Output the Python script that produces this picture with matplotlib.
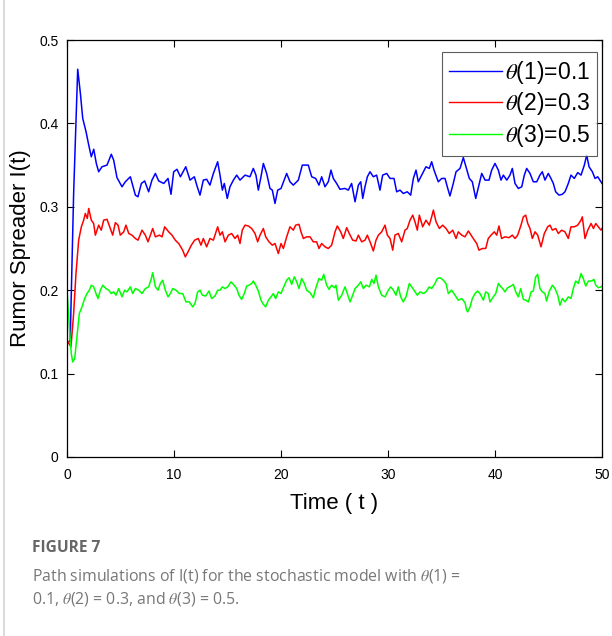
import matplotlib
matplotlib.use("Agg")
import matplotlib.pyplot as plt
from matplotlib.lines import Line2D

plt.rcParams['font.family'] = ['Liberation Sans', 'DejaVu Sans']
plt.rcParams['mathtext.fontset'] = 'stix'

# ---------------- data ----------------
blue_t = [0.0, 0.3, 0.62, 1.0, 1.25, 1.47, 1.78, 2.0, 2.27, 2.5, 2.74, 2.96, 3.27, 3.74, 4.14, 4.36,
          4.67, 5.14, 5.45, 5.92, 6.39, 6.63, 6.95, 7.26, 7.63, 7.94, 8.26, 8.57, 9.04, 9.44, 9.72,
          9.97, 10.28, 10.6, 11.1, 11.5, 11.9, 12.15, 12.43, 12.74, 13.05, 13.36, 13.68, 14.08,
          14.3, 14.52, 14.7, 14.98, 15.23, 15.55, 15.86, 16.17, 16.64, 17.1, 17.41, 17.66, 17.88,
          18.13, 18.35, 18.66, 18.97, 19.19, 19.44, 19.69, 20.0, 20.3, 20.53, 20.84, 21.15, 21.62,
          21.99, 22.55, 22.87, 23.24, 23.55, 23.8, 24.11, 24.42, 24.67, 24.89, 25.2, 25.51, 25.98,
          26.29, 26.6, 26.92, 27.23, 27.45, 27.64, 27.85, 28.07, 28.32, 28.63, 28.94, 29.25, 29.5,
          29.88, 30.19, 30.56, 30.81, 31.12, 31.43, 31.8, 32.12, 32.37, 32.62, 32.83, 33.15, 33.55,
          33.86, 34.08, 34.3, 34.7, 35.02, 35.33, 35.54, 35.79, 36.1, 36.36, 36.73, 37.04, 37.29,
          37.6, 37.88, 38.2, 38.5, 38.76, 39.07, 39.44, 39.69, 40.0, 40.31, 40.56, 40.78, 41.1,
          41.4, 41.62, 41.87, 42.18, 42.5, 42.74, 42.96, 43.27, 43.58, 43.9, 44.2, 44.42, 44.67,
          44.98, 45.23, 45.45, 45.67, 45.98, 46.29, 46.54, 46.85, 47.1, 47.41, 47.73, 48.04, 48.35,
          48.57, 48.79, 49.1, 49.35, 49.6, 49.9, 50.0]
blue_I = [0.135, 0.14, 0.316, 0.465, 0.436, 0.406, 0.39, 0.376, 0.36, 0.369, 0.352, 0.342, 0.348, 0.35,
          0.363, 0.356, 0.335, 0.324, 0.33, 0.336, 0.314, 0.312, 0.328, 0.331, 0.318, 0.332, 0.34,
          0.331, 0.328, 0.334, 0.315, 0.342, 0.345, 0.336, 0.348, 0.332, 0.336, 0.325, 0.314, 0.332,
          0.333, 0.326, 0.34, 0.354, 0.338, 0.32, 0.328, 0.31, 0.324, 0.332, 0.338, 0.332, 0.338,
          0.336, 0.346, 0.338, 0.32, 0.336, 0.352, 0.34, 0.322, 0.32, 0.304, 0.32, 0.322, 0.332,
          0.34, 0.33, 0.326, 0.332, 0.35, 0.35, 0.336, 0.334, 0.326, 0.336, 0.324, 0.33, 0.344,
          0.334, 0.328, 0.321, 0.322, 0.32, 0.328, 0.306, 0.326, 0.33, 0.31, 0.324, 0.336, 0.342,
          0.336, 0.338, 0.32, 0.338, 0.34, 0.334, 0.334, 0.318, 0.32, 0.316, 0.318, 0.314, 0.334,
          0.344, 0.33, 0.338, 0.348, 0.346, 0.354, 0.344, 0.33, 0.334, 0.334, 0.324, 0.313, 0.328,
          0.342, 0.346, 0.359, 0.348, 0.334, 0.33, 0.31, 0.326, 0.34, 0.332, 0.332, 0.344, 0.352,
          0.344, 0.332, 0.338, 0.332, 0.338, 0.346, 0.328, 0.322, 0.324, 0.338, 0.346, 0.34, 0.33,
          0.33, 0.338, 0.342, 0.332, 0.34, 0.334, 0.328, 0.318, 0.314, 0.315, 0.318, 0.328, 0.338,
          0.334, 0.341, 0.338, 0.35, 0.362, 0.348, 0.342, 0.334, 0.336, 0.33, 0.328]

red_t = [0.0, 0.37, 0.62, 0.84, 1.09, 1.34, 1.56, 1.71, 1.9, 2.03, 2.27, 2.49, 2.65, 2.96, 3.2, 3.43,
         3.74, 4.05, 4.27, 4.52, 4.77, 4.98, 5.3, 5.51, 5.77, 6.07, 6.39, 6.64, 7.01, 7.32, 7.57,
         7.79, 8.01, 8.26, 8.63, 8.88, 9.13, 9.5, 9.81, 10.12, 10.44, 10.81, 11.06, 11.31, 11.62,
         11.93, 12.27, 12.52, 12.74, 13.05, 13.36, 13.68, 14.08, 14.3, 14.52, 14.77, 15.08, 15.39,
         15.7, 15.95, 16.17, 16.38, 16.64, 16.95, 17.26, 17.57, 17.82, 18.04, 18.35, 18.57, 18.88,
         19.19, 19.44, 19.75, 20.0, 20.22, 20.53, 20.84, 21.15, 21.37, 21.68, 21.87, 22.09, 22.4,
         22.71, 23.02, 23.33, 23.55, 23.8, 24.11, 24.42, 24.73, 25.05, 25.26, 25.58, 25.82, 26.14,
         26.38, 26.7, 27.01, 27.23, 27.54, 27.85, 28.07, 28.38, 28.63, 28.88, 29.1, 29.41, 29.72,
         29.94, 30.19, 30.44, 30.65, 30.96, 31.28, 31.59, 31.8, 32.06, 32.31, 32.52, 32.74, 32.93,
         33.24, 33.55, 33.86, 34.08, 34.24, 34.49, 34.8, 35.11, 35.42, 35.73, 36.05, 36.36, 36.57,
         36.89, 37.2, 37.51, 37.76, 38.07, 38.29, 38.5, 38.81, 39.13, 39.37, 39.63, 39.94, 40.16,
         40.37, 40.62, 40.93, 41.31, 41.62, 41.87, 42.12, 42.43, 42.65, 42.87, 43.06, 43.27, 43.49,
         43.74, 43.99, 44.3, 44.61, 44.92, 45.14, 45.36, 45.67, 45.92, 46.23, 46.54, 46.85, 47.1,
         47.41, 47.73, 48.04, 48.16, 48.41, 48.67, 48.98, 49.2, 49.42, 49.66, 49.9, 50.0]
red_I = [0.14, 0.132, 0.172, 0.22, 0.26, 0.276, 0.284, 0.292, 0.286, 0.298, 0.284, 0.28, 0.266, 0.278,
         0.272, 0.284, 0.285, 0.274, 0.266, 0.281, 0.278, 0.266, 0.27, 0.278, 0.268, 0.266, 0.262,
         0.26, 0.272, 0.266, 0.258, 0.266, 0.274, 0.264, 0.266, 0.264, 0.276, 0.27, 0.266, 0.26,
         0.256, 0.248, 0.24, 0.246, 0.254, 0.26, 0.262, 0.254, 0.262, 0.252, 0.262, 0.26, 0.276,
         0.266, 0.27, 0.258, 0.266, 0.268, 0.262, 0.266, 0.256, 0.272, 0.278, 0.277, 0.274, 0.268,
         0.258, 0.266, 0.274, 0.264, 0.258, 0.254, 0.256, 0.244, 0.256, 0.25, 0.264, 0.276, 0.272,
         0.278, 0.279, 0.27, 0.262, 0.264, 0.264, 0.258, 0.258, 0.25, 0.256, 0.252, 0.25, 0.254,
         0.27, 0.277, 0.27, 0.262, 0.275, 0.268, 0.26, 0.259, 0.266, 0.258, 0.26, 0.266, 0.256,
         0.247, 0.26, 0.266, 0.27, 0.278, 0.266, 0.262, 0.248, 0.266, 0.268, 0.258, 0.272, 0.274,
         0.284, 0.29, 0.282, 0.272, 0.29, 0.276, 0.284, 0.278, 0.288, 0.296, 0.282, 0.274, 0.278,
         0.274, 0.268, 0.272, 0.262, 0.27, 0.266, 0.264, 0.271, 0.266, 0.26, 0.256, 0.248, 0.25,
         0.25, 0.262, 0.266, 0.27, 0.266, 0.277, 0.262, 0.264, 0.263, 0.266, 0.262, 0.266, 0.278,
         0.288, 0.29, 0.28, 0.274, 0.262, 0.27, 0.266, 0.252, 0.268, 0.276, 0.278, 0.272, 0.274,
         0.268, 0.272, 0.27, 0.262, 0.276, 0.276, 0.278, 0.284, 0.288, 0.262, 0.272, 0.28, 0.274,
         0.28, 0.276, 0.272, 0.274]

green_t = [0.0, 0.22, 0.4, 0.53, 0.72, 0.93, 1.15, 1.4, 1.65, 1.87, 2.09, 2.27, 2.49, 2.71, 2.9, 3.12,
           3.34, 3.64, 3.9, 4.14, 4.36, 4.58, 4.83, 5.14, 5.39, 5.61, 5.92, 6.14, 6.39, 6.7, 7.01,
           7.32, 7.63, 7.88, 8.01, 8.26, 8.51, 8.72, 8.94, 9.19, 9.44, 9.66, 9.88, 10.19, 10.5, 10.81,
           11.12, 11.43, 11.75, 11.96, 12.21, 12.43, 12.65, 12.96, 13.27, 13.52, 13.83, 14.08, 14.3,
           14.52, 14.77, 15.02, 15.33, 15.55, 15.86, 16.07, 16.32, 16.57, 16.79, 17.01, 17.26, 17.41,
           17.64, 17.88, 18.13, 18.35, 18.57, 18.82, 19.07, 19.28, 19.5, 19.75, 20.0, 20.22, 20.53,
           20.75, 21.0, 21.24, 21.47, 21.68, 21.93, 22.18, 22.4, 22.71, 23.02, 23.24, 23.55, 23.8,
           23.99, 24.27, 24.49, 24.73, 24.98, 25.14, 25.36, 25.67, 25.98, 26.2, 26.45, 26.7, 26.92,
           27.23, 27.45, 27.7, 27.94, 28.26, 28.48, 28.69, 28.88, 29.1, 29.41, 29.72, 30.03, 30.25,
           30.5, 30.75, 30.96, 31.19, 31.43, 31.68, 31.99, 32.22, 32.43, 32.74, 32.99, 33.3, 33.55,
           33.86, 34.08, 34.39, 34.61, 34.86, 35.17, 35.42, 35.64, 35.95, 36.26, 36.57, 36.89, 37.2,
           37.35, 37.45, 37.67, 37.88, 38.13, 38.38, 38.6, 38.91, 39.13, 39.37, 39.53, 39.84, 40.07,
           40.31, 40.56, 40.78, 40.93, 41.18, 41.5, 41.71, 41.94, 42.18, 42.4, 42.65, 42.87, 43.12,
           43.37, 43.58, 43.8, 43.99, 44.2, 44.42, 44.67, 44.82, 45.05, 45.36, 45.61, 45.86, 46.07,
           46.29, 46.54, 46.85, 47.1, 47.32, 47.54, 47.79, 48.04, 48.25, 48.48, 48.73, 49.04, 49.25,
           49.42, 49.66, 49.9, 50.0]
green_I = [0.2, 0.156, 0.124, 0.114, 0.118, 0.144, 0.172, 0.18, 0.19, 0.196, 0.2, 0.206, 0.204, 0.196,
           0.19, 0.2, 0.206, 0.202, 0.2, 0.196, 0.198, 0.194, 0.202, 0.192, 0.2, 0.198, 0.204, 0.196,
           0.202, 0.2, 0.196, 0.202, 0.204, 0.214, 0.221, 0.204, 0.2, 0.208, 0.212, 0.2, 0.192, 0.196,
           0.202, 0.2, 0.196, 0.196, 0.186, 0.186, 0.18, 0.184, 0.198, 0.2, 0.194, 0.193, 0.199, 0.19,
           0.193, 0.2, 0.2, 0.204, 0.202, 0.204, 0.21, 0.207, 0.202, 0.194, 0.189, 0.196, 0.205, 0.206,
           0.208, 0.211, 0.206, 0.199, 0.188, 0.183, 0.18, 0.188, 0.192, 0.196, 0.19, 0.198, 0.196,
           0.203, 0.212, 0.215, 0.207, 0.216, 0.21, 0.202, 0.214, 0.208, 0.2, 0.197, 0.191, 0.202,
           0.214, 0.212, 0.219, 0.206, 0.201, 0.206, 0.203, 0.206, 0.188, 0.194, 0.204, 0.196, 0.186,
           0.194, 0.202, 0.206, 0.21, 0.202, 0.206, 0.204, 0.213, 0.208, 0.218, 0.204, 0.194, 0.192,
           0.2, 0.204, 0.2, 0.194, 0.204, 0.192, 0.186, 0.192, 0.208, 0.204, 0.2, 0.194, 0.198, 0.196,
           0.198, 0.204, 0.202, 0.208, 0.214, 0.215, 0.212, 0.208, 0.196, 0.2, 0.194, 0.188, 0.19,
           0.185, 0.176, 0.174, 0.18, 0.19, 0.196, 0.199, 0.196, 0.188, 0.198, 0.196, 0.186, 0.192,
           0.196, 0.208, 0.204, 0.201, 0.198, 0.203, 0.205, 0.207, 0.198, 0.192, 0.202, 0.189, 0.188,
           0.186, 0.198, 0.199, 0.216, 0.219, 0.202, 0.198, 0.196, 0.187, 0.198, 0.206, 0.202, 0.194,
           0.182, 0.19, 0.186, 0.192, 0.19, 0.202, 0.211, 0.208, 0.22, 0.214, 0.205, 0.211, 0.211,
           0.213, 0.206, 0.203, 0.204, 0.205]

legend_labels = [r'$\theta$(1)=0.1', r'$\theta$(2)=0.3', r'$\theta$(3)=0.5']
x_ticks = [0, 10, 20, 30, 40, 50]
y_ticks = [0, 0.1, 0.2, 0.3, 0.4, 0.5]
y_tick_labels = ['0', '0.1', '0.2', '0.3', '0.4', '0.5']

# ---------------- figure ----------------
W, H = 612, 636
fig = plt.figure(figsize=(W / 100, H / 100), dpi=100)
ax = fig.add_axes([67 / W, 1 - 457 / H, (602 - 67) / W, (457 - 40) / H])

lw = 1.1
l1, = ax.plot(blue_t, blue_I, color='#0000ff', lw=lw)
l2, = ax.plot(red_t, red_I, color='#ff0000', lw=lw)
l3, = ax.plot(green_t, green_I, color='#00ff00', lw=lw)

ax.set_xlim(0, 50)
ax.set_ylim(0, 0.5)
ax.set_xticks(x_ticks)
ax.set_yticks(y_ticks)
ax.set_yticklabels(y_tick_labels)
ax.tick_params(direction='in', length=5, width=0.8, top=True, right=True,
               labelsize=10, colors='black')
ax.tick_params(axis='x', pad=8)
ax.tick_params(axis='y', pad=6)
for s in ax.spines.values():
    s.set_linewidth(0.9)
    s.set_color('black')

ax.set_xlabel('Time ( t )', fontsize=16, labelpad=8)
ax.set_ylabel('Rumor Spreader I(t)', fontsize=16, labelpad=6)

leg = ax.legend([l1, l2, l3], legend_labels, loc='upper right',
                bbox_to_anchor=(1.0 - 5 / 535, 1.0 - 12 / 417),
                fontsize=16.5, frameon=True, fancybox=False, edgecolor='#333333',
                handlelength=2.3, handletextpad=0.15, borderpad=0.3,
                labelspacing=0.2, borderaxespad=0.0)
leg.get_frame().set_linewidth(0.8)
for h in leg.get_lines():
    h.set_linewidth(1.0)

# page border line on the left
fig.add_artist(Line2D([4 / W, 4 / W], [0, 1], color='#d4d4d4', lw=1.2))

# caption
fig.text(32 / W, 1 - 548 / H, 'FIGURE 7', fontsize=11.2, fontweight='bold',
         color='#666666', family=['Open Sans', 'DejaVu Sans'], va='center')
fig.text(32 / W, 1 - 576 / H,
         r'Path simulations of I(t) for the stochastic model with $\theta$(1) =',
         fontsize=11.4, color='#777777', family=['Open Sans', 'DejaVu Sans'], va='center')
fig.text(32 / W, 1 - 599 / H,
         r'0.1, $\theta$(2) = 0.3, and $\theta$(3) = 0.5.',
         fontsize=11.4, color='#777777', family=['Open Sans', 'DejaVu Sans'], va='center')

fig.savefig('out.png', dpi=100)
